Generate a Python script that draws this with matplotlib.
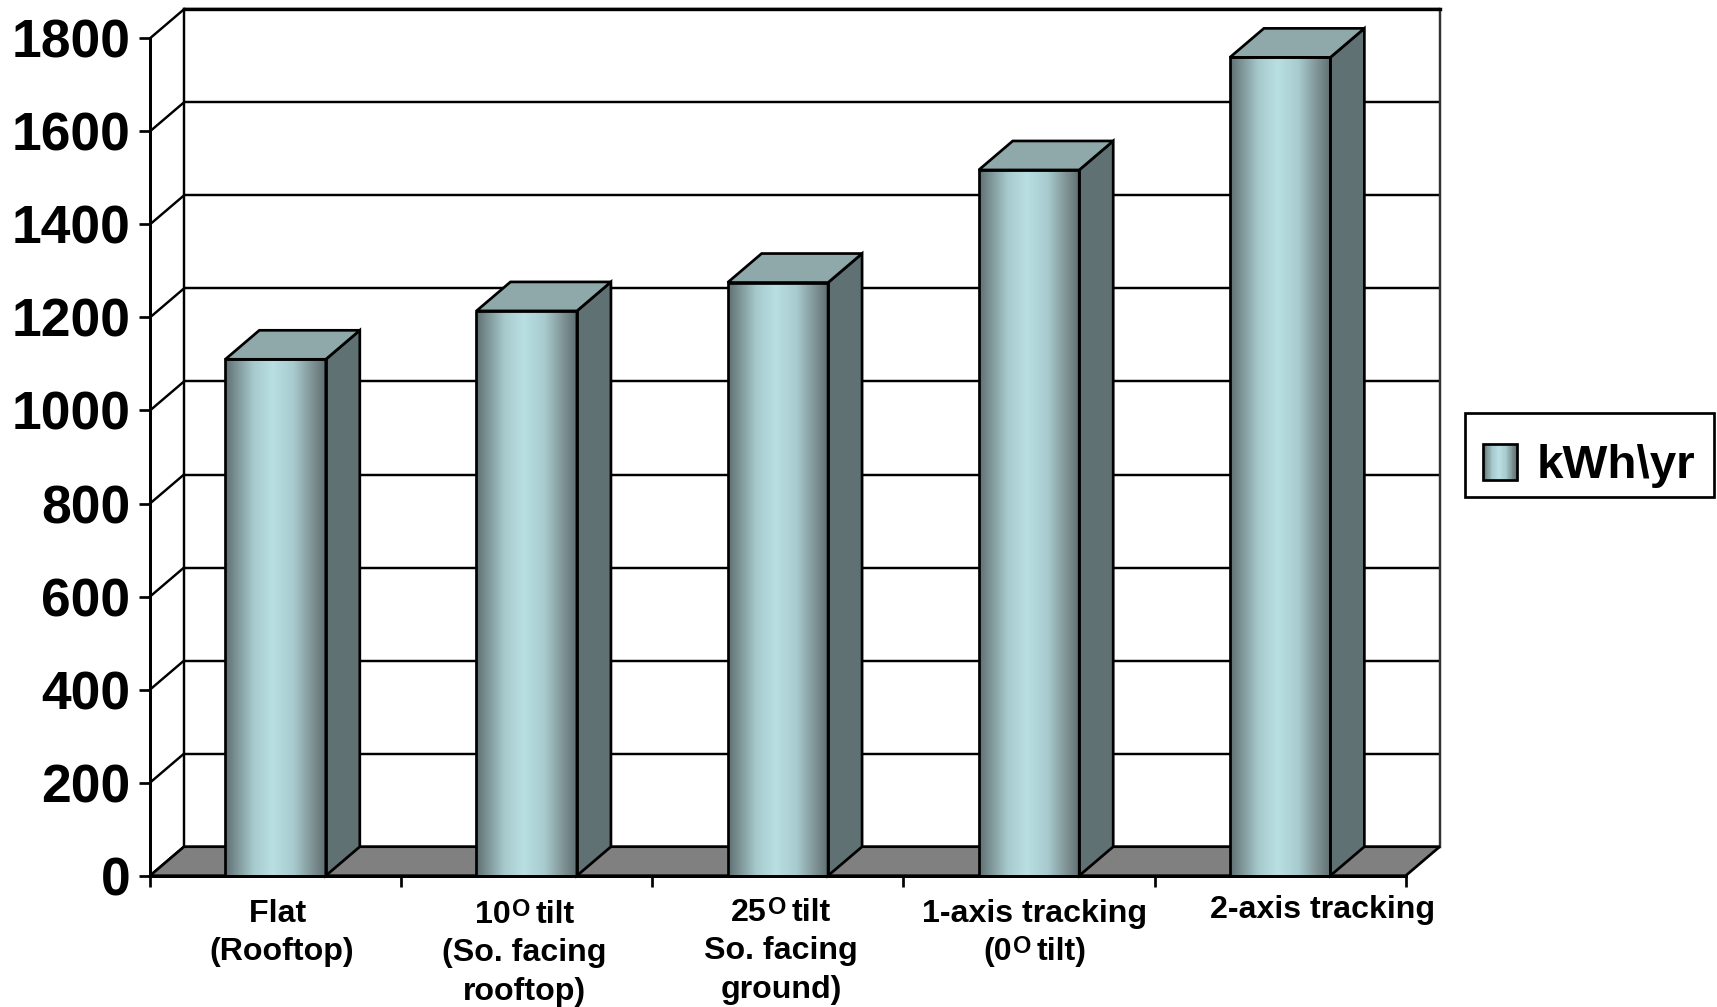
import numpy as np
import matplotlib
matplotlib.use("Agg")
import matplotlib.pyplot as plt
from matplotlib.colors import LinearSegmentedColormap
from matplotlib.font_manager import FontProperties
from matplotlib.legend_handler import HandlerBase
from matplotlib.patches import Patch, Polygon, Rectangle

# Annual energy yield per installation type; "^O" marks a raised letter O
categories = [
    ["Flat ", "(Rooftop)"],
    ["10^O tilt", "(So. facing", "rooftop)"],
    ["25^O tilt", "So. facing", "ground)"],
    ["1-axis tracking", "(0^O tilt)"],
    ["2-axis tracking"],
]
values = [1110, 1214, 1275, 1517, 1759]
y_ticks = [0, 200, 400, 600, 800, 1000, 1200, 1400, 1600, 1800]
series_name = "kWh\\yr"

# Pixel offset of each label block from its slot centre and from the floor line
label_dx = [6, -2, 3, 6, 42]
label_dy = [-46, -47, -45, -46, -42.5]
line_step = 38.5
label_size = 23.1
raised_size = 17
raised_lift = 7

plt.rcParams["font.family"] = ["Liberation Sans"]
plt.rcParams["font.weight"] = "bold"

W, H = 1717, 1007
fig = plt.figure(figsize=(W / 100, H / 100), dpi=100, facecolor="white")
ax = fig.add_axes([150 / W, 1 - 875.7 / H, 1255.7 / W, 837.4 / H])
ax.set_facecolor("none")

xmax = len(values)
ymax = y_ticks[-1]
# Oblique depth of the box, in data units
dx = 34 / (1255.7 / xmax)
dy = 29 / (837.4 / ymax)
bar_width = 0.4

sheen = LinearSegmentedColormap.from_list(
    "sheen",
    [(0.0, "#5e6f71"), (0.12, "#7f9698"), (0.28, "#a6c9cc"), (0.47, "#b9dfe3"),
     (0.68, "#a8cbce"), (0.88, "#7c8f91"), (1.0, "#5e6f71")],
)
gradient = np.linspace(0, 1, 256).reshape(1, -1)

LW = 1.95
ink = "black"

# Back wall with its gridlines and the diagonals running to the front axis
ax.add_patch(Polygon([(dx, dy), (xmax + dx, dy), (xmax + dx, ymax + dy), (dx, ymax + dy)],
                     closed=True, fc="white", ec="none", clip_on=False, zorder=0.5))
for v in y_ticks:
    ax.plot([dx, xmax + dx], [v + dy, v + dy], color=ink, lw=LW * 0.9, clip_on=False, zorder=1,
            solid_capstyle="butt")
    ax.plot([0, dx], [v, v + dy], color=ink, lw=LW * 0.9, clip_on=False, zorder=1)
ax.plot([dx, dx], [dy, ymax + dy], color=ink, lw=LW * 0.9, clip_on=False, zorder=1)
ax.plot([xmax + dx, xmax + dx], [dy, ymax + dy], color="#333333", lw=LW * 0.9, clip_on=False, zorder=1)
ax.plot([dx, xmax + dx], [ymax + dy, ymax + dy], color=ink, lw=LW * 1.25, clip_on=False, zorder=1)

# Floor
ax.add_patch(Polygon([(0, 0), (xmax, 0), (xmax + dx, dy), (dx, dy)], closed=True, fc="#808080",
                     ec=ink, lw=LW, clip_on=False, zorder=1.5, joinstyle="miter"))

# Columns: shaded front face plus lit top and dark side
bars = ax.bar(np.arange(xmax) + 0.5, values, width=bar_width, facecolor="none", edgecolor=ink,
              linewidth=LW, zorder=4, clip_on=False)
for bar in bars:
    x0, x1 = bar.get_x(), bar.get_x() + bar.get_width()
    top = bar.get_height()
    ax.imshow(gradient, cmap=sheen, extent=[x0, x1, 0, top], aspect="auto", zorder=3,
              interpolation="bilinear", clip_on=False)
    ax.add_patch(Polygon([(x1, 0), (x1 + dx, dy), (x1 + dx, top + dy), (x1, top)], closed=True,
                         fc="#5f7173", ec=ink, lw=LW, clip_on=False, zorder=3, joinstyle="miter"))
    ax.add_patch(Polygon([(x0, top), (x1, top), (x1 + dx, top + dy), (x0 + dx, top + dy)], closed=True,
                         fc="#8fa9ab", ec=ink, lw=LW, clip_on=False, zorder=3, joinstyle="miter"))

ax.set_xlim(0, xmax)
ax.set_ylim(0, ymax)
for side in ("top", "right"):
    ax.spines[side].set_visible(False)
for side in ("left", "bottom"):
    ax.spines[side].set_linewidth(LW * 1.1)
    ax.spines[side].set_zorder(5)

ax.set_yticks(y_ticks)
ax.set_yticklabels([str(v) for v in y_ticks], fontsize=38.4, fontweight="bold", color="black")
ax.set_xticks(np.arange(xmax + 1))
ax.set_xticklabels([])
ax.tick_params(axis="y", length=8, width=LW, pad=6)
ax.tick_params(axis="x", length=8, width=LW)

renderer = fig.canvas.get_renderer()


def text_width(s, size):
    # Measured between guard bars so that leading and trailing spaces count
    prop = FontProperties(family="Liberation Sans", weight="bold", size=size)
    full = renderer.get_text_width_height_descent("|" + s + "|", prop, False)[0]
    bare = renderer.get_text_width_height_descent("||", prop, False)[0]
    return full - bare


def put_line(line, i, x_off, y_off):
    # Lay out a label line left to right, raising the O where it is marked
    pieces = line.split("^O")
    segments = []
    for n, piece in enumerate(pieces):
        if n:
            segments.append(("O", raised_size, raised_lift, text_width("O", raised_size) - 2.5))
        segments.append((piece, label_size, 0, text_width(piece, label_size)))
    total = sum(s[3] for s in segments)
    cursor = x_off - total / 2
    for text, size, lift, width in segments:
        # A leading space only moves the cursor, so the drawn pieces stay apart
        stripped = text.lstrip()
        gap = text_width(text[:len(text) - len(stripped)], size) if stripped != text else 0
        ax.annotate(stripped, xy=(i + 0.5, 0), xycoords="data",
                    xytext=(cursor + gap + (1 if lift else 0), y_off + lift),
                    textcoords="offset pixels", ha="left", va="baseline", fontsize=size,
                    fontweight="bold", annotation_clip=False)
        cursor += width


for i, lines in enumerate(categories):
    for j, line in enumerate(lines):
        put_line(line, i, label_dx[i], label_dy[i] - j * line_step)


class SheenHandler(HandlerBase):
    """Legend key painted as the same horizontal shading as the columns."""

    def create_artists(self, legend, orig_handle, xdescent, ydescent, width, height, fontsize, trans):
        n = 40
        arts = []
        for k in range(n):
            arts.append(Rectangle((-xdescent + width * k / n, -ydescent), width / n + 0.4, height,
                                  fc=sheen((k + 0.5) / n), ec="none", transform=trans))
        arts.append(Rectangle((-xdescent, -ydescent), width, height, fc="none", ec=ink, lw=LW,
                              transform=trans))
        return arts


# Legend frame is taller than its contents, so it is drawn on its own behind them
fig.add_artist(Rectangle((1465.4 / W, 1 - 497.3 / H), 248.6 / W, 84 / H, transform=fig.transFigure,
                         fc="white", ec=ink, lw=LW, zorder=6))
key = Patch(label=series_name)
legend = fig.legend(handles=[key], labels=[series_name], handler_map={Patch: SheenHandler()},
                    loc="upper left", bbox_to_anchor=(1465.4 / W, 1 - 426.5 / H), borderaxespad=0,
                    prop={"size": 34.2, "weight": "bold"}, frameon=False, borderpad=0.37,
                    handlelength=0.71, handleheight=0.78, handletextpad=0.42)
legend.set_zorder(7)

fig.savefig("out.png", dpi=100, facecolor="white")
